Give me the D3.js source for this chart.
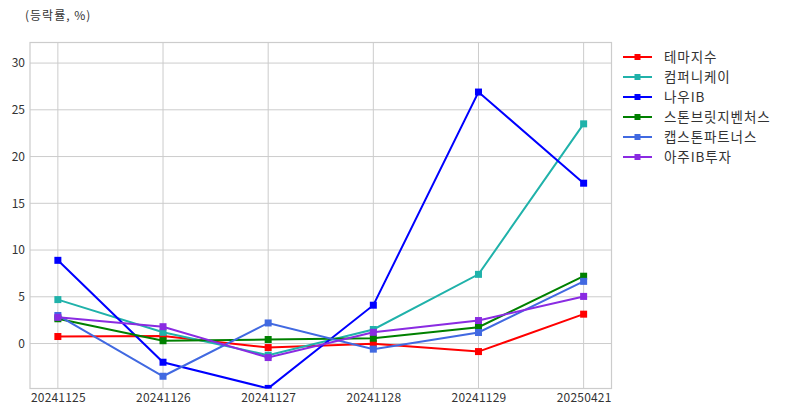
<!DOCTYPE html>
<html><head><meta charset="utf-8">
<script src="https://cdn.jsdelivr.net/npm/d3@7"></script>
<style>body{margin:0;background:#fff;font-family:"Noto Sans CJK KR","Noto Sans",sans-serif;}</style>
</head><body>
<svg id="c" width="789" height="416"></svg>
<script>
const dates = ["20241125","20241126","20241127","20241128","20241129","20250421"];
const seriesNames = ["테마지수","컴퍼니케이","나우IB","스톤브릿지벤처스","캡스톤파트너스","아주IB투자"];
const colors = ["#ff0000","#20b2aa","#0000ff","#008000","#4169e1","#8a2be2"];
const themeIdx = [0.75, 0.8, -0.43, -0.03, -0.86, 3.14];
const companyK = [4.7, 1.2, -1.25, 1.5, 7.4, 23.5];
const nowIB = [8.9, -2.0, -4.8, 4.1, 26.9, 17.15];
const stonebridge = [2.65, 0.3, 0.43, 0.57, 1.75, 7.2];
const capstone = [3.0, -3.5, 2.2, -0.6, 1.18, 6.65];
const ajuIB = [2.8, 1.8, -1.5, 1.2, 2.46, 5.04];
const yTicks = [0, 5, 10, 15, 20, 25, 30];
const allSeries = [themeIdx, companyK, nowIB, stonebridge, capstone, ajuIB];

const svg = d3.select("#c");
const L = 30, R = 611.5, T = 42.5, B = 388.5;
const x = d3.scalePoint().domain(dates).range([L, R]).padding(0.265);
const y = d3.scaleLinear().domain([-4.81, 32.2]).range([B, T]);

// grid
const g = svg.append("g");
g.selectAll("line.h").data(yTicks).join("line")
  .attr("x1", L).attr("x2", R).attr("y1", d => y(d)).attr("y2", d => y(d))
  .attr("stroke", "#cccccc").attr("stroke-width", 1);
g.selectAll("line.v").data(dates).join("line")
  .attr("y1", T).attr("y2", B).attr("x1", d => x(d)).attr("x2", d => x(d))
  .attr("stroke", "#cccccc").attr("stroke-width", 1);
svg.append("rect").attr("x", L).attr("y", T).attr("width", R - L).attr("height", B - T)
  .attr("fill", "none").attr("stroke", "#cccccc").attr("stroke-width", 1.2);

// axes
const xa = svg.append("g").attr("transform", `translate(0,${B})`)
  .call(d3.axisBottom(x).tickSize(0).tickPadding(5));
xa.select(".domain").remove();
xa.selectAll("text").attr("font-size", 12).attr("fill", "#333").attr("letter-spacing", 0.2).attr("font-family", "'Noto Sans CJK KR', sans-serif");
const ya = svg.append("g").attr("transform", `translate(${L},0)`)
  .call(d3.axisLeft(y).tickValues(yTicks).tickSize(0).tickPadding(5));
ya.select(".domain").remove();
ya.selectAll("text").attr("font-size", 12).attr("fill", "#333").attr("font-family", "'Noto Sans CJK KR', sans-serif");

svg.append("text").attr("x", 25).attr("y", 20).attr("font-size", 12).attr("letter-spacing", 1).attr("fill", "#333")
  .text("(등락률, %)");

// lines
const clip = svg.append("defs").append("clipPath").attr("id", "clp")
  .append("rect").attr("x", L).attr("y", T - 4).attr("width", R - L).attr("height", B - T + 4);
const line = d3.line().x((d, i) => x(dates[i])).y(d => y(d));
const plot = svg.append("g").attr("clip-path", "url(#clp)");
allSeries.forEach((s, k) => {
  plot.append("path").datum(s).attr("d", line).attr("fill", "none")
    .attr("stroke", colors[k]).attr("stroke-width", 2);
  plot.selectAll(null).data(s).join("rect")
    .attr("x", (d, i) => x(dates[i]) - 3.5).attr("y", d => y(d) - 3.5)
    .attr("width", 7).attr("height", 7).attr("fill", colors[k]);
});

// legend
const lg = svg.append("g");
seriesNames.forEach((n, k) => {
  const yy = 57 + k * 20;
  lg.append("line").attr("x1", 623).attr("x2", 652).attr("y1", yy).attr("y2", yy)
    .attr("stroke", colors[k]).attr("stroke-width", 2);
  lg.append("rect").attr("x", 634.5).attr("y", yy - 3).attr("width", 6).attr("height", 6).attr("fill", colors[k]);
  lg.append("text").attr("x", 664).attr("y", yy + 4.5).attr("font-size", 13.5).attr("letter-spacing", 0.9).attr("fill", "#333").text(n);
});
</script>
</body></html>
